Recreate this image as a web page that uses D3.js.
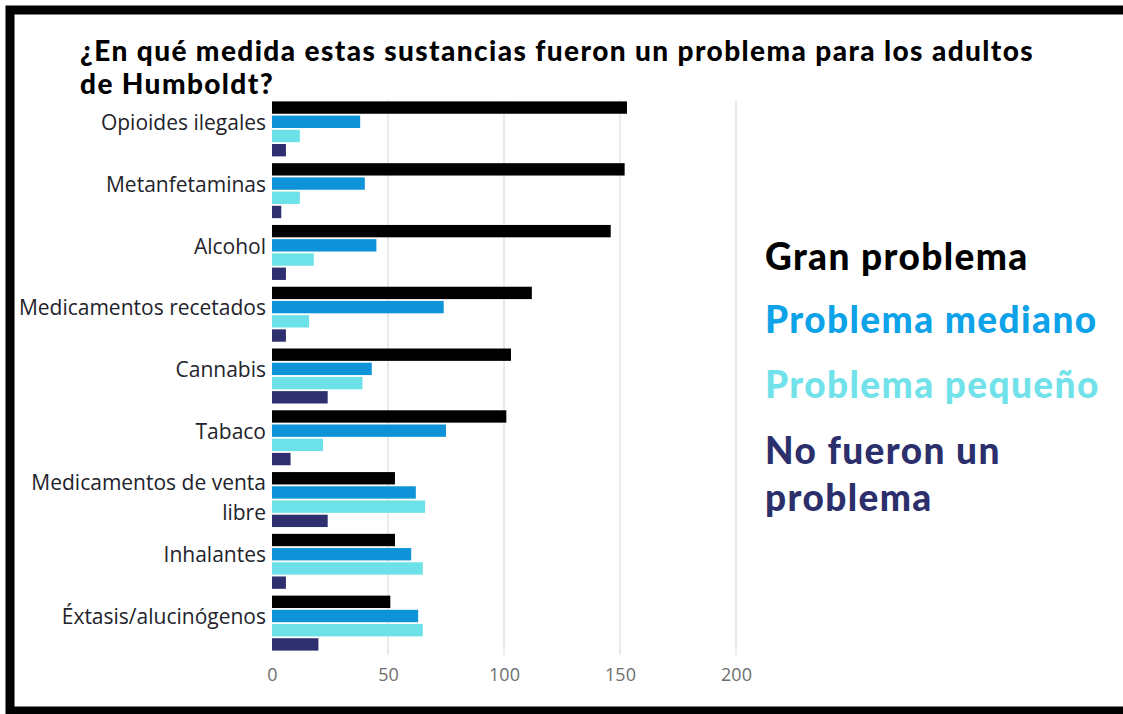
<!DOCTYPE html>
<html>
<head>
<meta charset="utf-8">
<script src="https://cdn.jsdelivr.net/npm/d3@7"></script>
<style>
  html, body { margin: 0; padding: 0; background: #fff; }
  svg { display: block; }
</style>
</head>
<body>
<svg id="chart" width="1123" height="714"></svg>
<script>
const titleLines = ["¿En qué medida estas sustancias fueron un problema para los adultos", "de Humboldt?"];
const categories = ["Opioides ilegales", "Metanfetaminas", "Alcohol", "Medicamentos recetados", "Cannabis", "Tabaco", "Medicamentos de venta libre", "Inhalantes", "Éxtasis/alucinógenos"];
const seriesNames = ["Gran problema", "Problema mediano", "Problema pequeño", "No fueron un problema"];
const granProblema = [153, 152, 146, 112, 103, 101, 53, 53, 51];
const problemaMediano = [38, 40, 45, 74, 43, 75, 62, 60, 63];
const problemaPequeno = [12, 12, 18, 16, 39, 22, 66, 65, 65];
const noProblema = [6, 4, 6, 6, 24, 8, 24, 6, 20];
const xTicks = [0, 50, 100, 150, 200];
const legendLines = [["Gran problema"], ["Problema mediano"], ["Problema pequeño"], ["No fueron un", "problema"]];

const barColors = ["#000000", "#0f93d8", "#6ce1e7", "#2d2f6f"];
const legendColors = ["#000000", "#0ea2e8", "#72e2ea", "#2b2f6b"];
const seriesValues = [granProblema, problemaMediano, problemaPequeno, noProblema];

const svg = d3.select("#chart");

// frame
svg.append("rect").attr("x", 10).attr("y", 10).attr("width", 1200).attr("height", 701)
  .attr("fill", "none").attr("stroke", "#000").attr("stroke-width", 9);

// title
const titleFont = "Lato, 'DejaVu Sans', sans-serif";
svg.append("text").attr("x", 80).attr("y", 61)
  .attr("font-family", titleFont).attr("font-weight", 900).attr("font-size", 28)
  .attr("letter-spacing", 1.4).attr("fill", "#000")
  .selectAll("tspan").data(titleLines).join("tspan")
  .attr("x", 80).attr("dy", (d, i) => i === 0 ? 0 : 33).text(d => d);

const x = d3.scaleLinear().domain([0, 200]).range([272, 736]);
const y0 = d3.scaleBand().domain(categories).range([98, 654]).paddingInner(0.11).paddingOuter(0.055);
const y1 = d3.scaleBand().domain(seriesNames).range([0, y0.bandwidth()]).paddingInner(0.13);

// grid
svg.append("g").selectAll("line").data(xTicks.filter(t => t > 0)).join("line")
  .attr("x1", d => x(d)).attr("x2", d => x(d)).attr("y1", 100).attr("y2", 655)
  .attr("stroke", "#e3e3e3").attr("stroke-width", 1.5);

// x axis
const xAxis = svg.append("g").attr("transform", "translate(0,664)")
  .call(d3.axisBottom(x).tickValues(xTicks).tickSize(0).tickPadding(4));
xAxis.select(".domain").remove();
xAxis.selectAll("text").attr("font-family", "'Open Sans', 'Noto Sans', sans-serif").attr("font-size", 18).attr("fill", "#6e6e6e");

// bars
const rows = categories.map((c, i) => ({ cat: c, vals: seriesNames.map((s, j) => ({ s, v: seriesValues[j][i], j })) }));
const g = svg.append("g");
const grp = g.selectAll("g").data(rows).join("g").attr("transform", d => `translate(0,${y0(d.cat)})`);
grp.selectAll("rect").data(d => d.vals).join("rect")
  .attr("x", x(0)).attr("y", d => y1(d.s)).attr("height", y1.bandwidth())
  .attr("width", d => x(d.v) - x(0)).attr("fill", d => barColors[d.j]);

// category labels
const yAxis = svg.append("g").attr("transform", `translate(${x(0)},0)`)
  .call(d3.axisLeft(y0).tickSize(0).tickPadding(6));
yAxis.select(".domain").remove();
yAxis.selectAll("text").attr("font-family", "'Open Sans', 'Noto Sans', sans-serif").attr("font-size", 21)
  .attr("fill", "#23232b").attr("dy", "0.05em");
yAxis.selectAll(".tick text").each(function(d) {
  const t = d3.select(this);
  if (this.getComputedTextLength() > 262) {
    const words = d.split(" ");
    const last = words.pop();
    t.text(null);
    t.append("tspan").attr("x", -6).attr("dy", "-0.45em").text(words.join(" "));
    t.append("tspan").attr("x", -6).attr("dy", "1.4em").text(last);
  }
});

// legend
const legendFont = "Lato, 'DejaVu Sans', sans-serif";
const baselines = [270, 333, 398, 464];
legendLines.forEach((lines, i) => {
  svg.append("text").attr("x", 765).attr("y", baselines[i])
    .attr("font-family", legendFont).attr("font-weight", 900).attr("font-size", 37)
    .attr("letter-spacing", 1.4).attr("fill", legendColors[i])
    .selectAll("tspan").data(lines).join("tspan")
    .attr("x", 765).attr("dy", (d, k) => k === 0 ? 0 : 47).text(d => d);
});
</script>
</body>
</html>
